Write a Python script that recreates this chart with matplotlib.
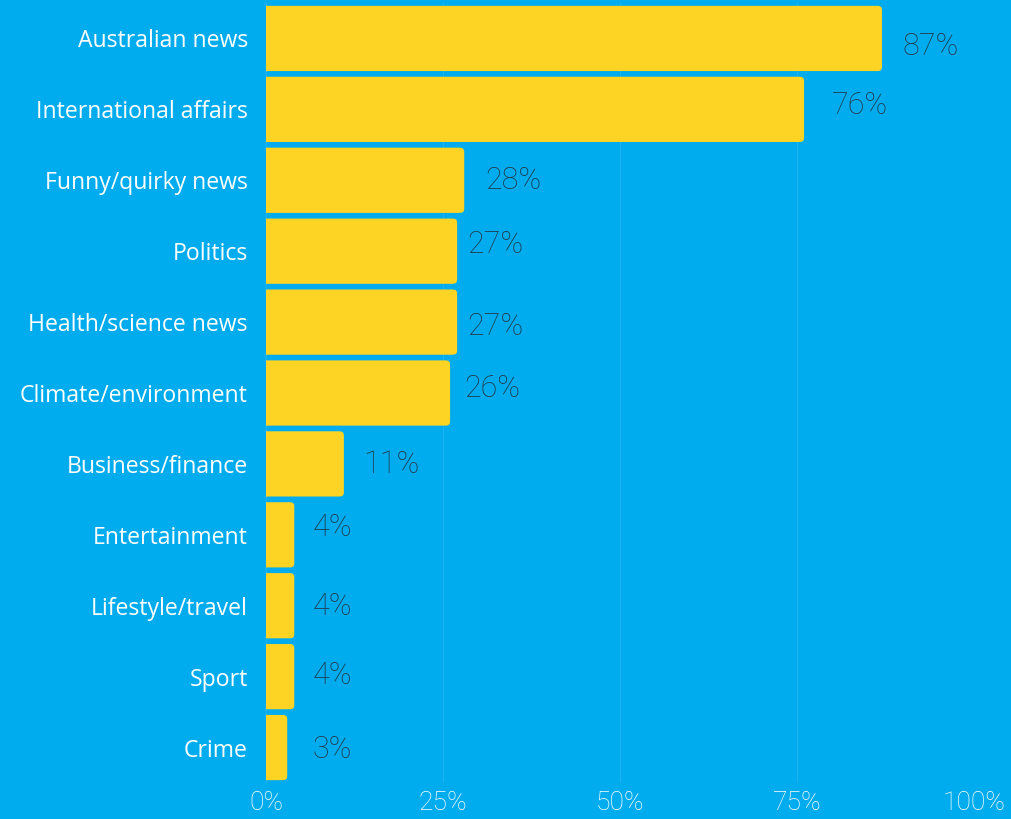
import matplotlib
matplotlib.use("Agg")
import matplotlib.pyplot as plt
from matplotlib.patches import FancyBboxPatch

# data
categories = ["Australian news", "International affairs", "Funny/quirky news", "Politics",
              "Health/science news", "Climate/environment", "Business/finance",
              "Entertainment", "Lifestyle/travel", "Sport", "Crime"]
values = [87, 76, 28, 27, 27, 26, 11, 4, 4, 4, 3]
tick_values = [0, 25, 50, 75, 100]
tick_labels = ["0%", "25%", "50%", "75%", "100%"]

# label offsets in points (dx, dy) - the labels are a bit jittered in the original
label_dx = [15, 20, 15, 7, 7, 10, 14, 13, 13, 13, 18]
label_dy = [-4, 4, 1, 6, -2, 5, 1, 7, 1, 2, 0]

BG = "#00ABEE"
BAR = "#FDD424"
GRID = "#1DB3EF"
VALUE_COL = "#21394A"

fig = plt.figure(figsize=(10.11, 8.19), dpi=100, facecolor=BG)
ax = fig.add_axes([266 / 1011, 36 / 819, 708 / 1011, 780 / 819], facecolor=BG)

ax.set_xlim(0, 100)
ax.set_ylim(len(categories) - 0.5, -0.5)

bar_h = 0.92
for i, v in enumerate(values):
    # extend to the left so only the right corners show as rounded
    p = FancyBboxPatch((-2, i - bar_h / 2), v + 2, bar_h,
                       boxstyle="round,pad=0,rounding_size=0.6",
                       mutation_aspect=0.095,
                       facecolor=BAR, edgecolor="none", zorder=3, clip_on=True)
    ax.add_patch(p)
    ax.annotate(f"{v}%", xy=(v, i), xytext=(label_dx[i], label_dy[i] - 1.5),
                textcoords="offset points", ha="left", va="center",
                fontsize=22, color=VALUE_COL, family=["Roboto", "DejaVu Sans"],
                fontweight="light", zorder=4)

ax.set_xticks(tick_values)
ax.set_xticklabels(tick_labels)
ax.set_yticks(range(len(categories)))
ax.set_yticklabels(categories)

for lab in ax.get_xticklabels():
    lab.set_family(["Roboto", "DejaVu Sans"])
    lab.set_fontweight("light")
for lab in ax.get_yticklabels():
    lab.set_family(["Open Sans", "DejaVu Sans"])

ax.tick_params(axis="x", length=0, pad=6, labelsize=19, colors="white")
ax.tick_params(axis="y", length=0, pad=13, labelsize=16.6, colors="white")

ax.grid(axis="x", color=GRID, linewidth=0.8, zorder=0)
ax.set_axisbelow(True)
for s in ax.spines.values():
    s.set_visible(False)

fig.savefig("out.png", dpi=100, facecolor=BG)
